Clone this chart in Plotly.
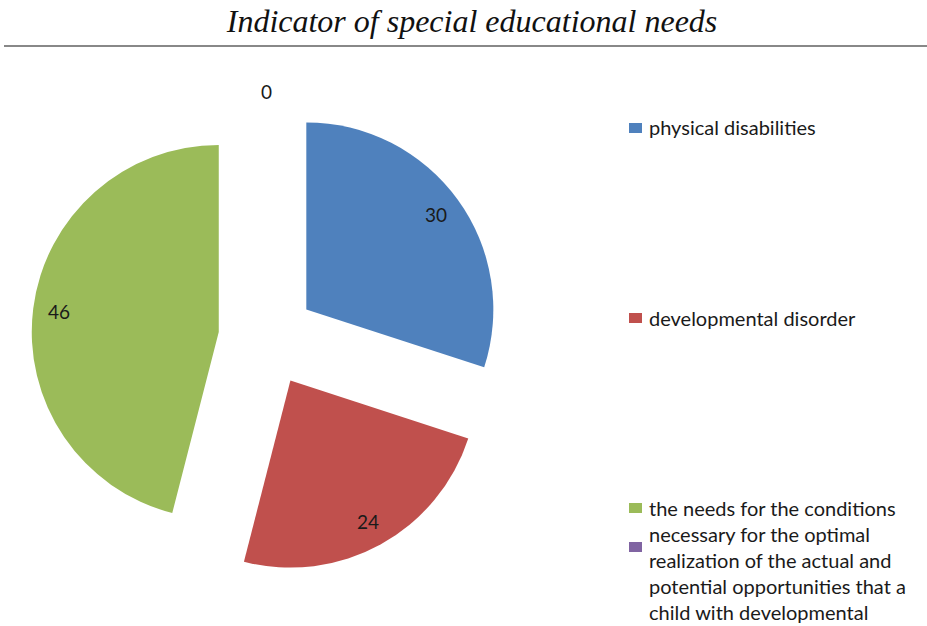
import math
import plotly.graph_objects as go

# Survey shares by category of special educational need
categories = [
    "physical disabilities",
    "developmental disorder",
    "the needs for the conditions<br>necessary for the optimal<br>realization of the actual and<br>potential opportunities that a<br>child with developmental",
    "",
]
values = [30, 24, 46, 0]
colors = ["#4F81BD", "#C0504D", "#9BBB59", "#8064A2"]

W, H = 927, 626
PULL = 0.26
R_PX = 187
CX_PX, CY_PX = 267, 338
half = R_PX * (1 + PULL)
# pie box (paper coords)
dom_x = [(CX_PX - half) / W, (CX_PX + half) / W]
dom_y = [1 - (CY_PX + half) / H, 1 - (CY_PX - half) / H]

fig = go.Figure()
fig.add_trace(go.Pie(
    labels=[f"cat{i}" for i in range(len(values))],
    values=values,
    sort=False,
    direction="clockwise",
    rotation=0,
    pull=[PULL] * len(values),
    marker=dict(colors=colors, line=dict(width=0)),
    textinfo="none",
    hoverinfo="label+value",
    showlegend=False,
    domain=dict(x=dom_x, y=dom_y),
))

# pie geometry in pixels, mirroring plotly's own sizing rule
box_w = W * (dom_x[1] - dom_x[0])
box_h = H * (dom_y[1] - dom_y[0])
r = min(box_w, box_h) / (2 + 2 * PULL)
cx = W * (dom_x[0] + dom_x[1]) / 2
cy = H * (1 - (dom_y[0] + dom_y[1]) / 2)

# value labels along each slice's mid-angle
total = sum(values)
cum = 0
annotations = []
for v in values:
    start = cum / total * 360
    cum += v
    end = cum / total * 360
    mid = math.radians((start + end) / 2)
    dx, dy = math.sin(mid), -math.cos(mid)
    ax = cx + dx * r * PULL
    ay = cy + dy * r * PULL
    k = 0.86 if v > 0 else 1.06
    lx = ax + dx * r * k
    ly = ay + dy * r * k
    annotations.append(dict(
        x=lx / W, y=1 - ly / H, xref="paper", yref="paper",
        text=str(v), showarrow=False,
        font=dict(family="Lato", size=19, color="#1a1a1a"),
        xanchor="center", yanchor="middle",
    ))

# legend drawn as swatches and text
legend_y = [128, 318, 508, 547]
shapes = []
for name, col, yy in zip(categories, colors, legend_y):
    shapes.append(dict(
        type="rect", xref="paper", yref="paper",
        x0=629 / W, x1=642 / W, y0=1 - (yy - 5) / H, y1=1 - (yy + 5) / H,
        fillcolor=col, line=dict(width=0),
    ))
    if name:
        annotations.append(dict(
            x=647 / W, y=1 - (yy - 14.5) / H, xref="paper", yref="paper",
            text=name, showarrow=False, align="left",
            font=dict(family="Lato", size=20, color="#1a1a1a"),
            xanchor="left", yanchor="top",
        ))

# rule under the title
shapes.append(dict(
    type="line", xref="paper", yref="paper",
    x0=4 / W, x1=1, y0=1 - 46 / H, y1=1 - 46 / H,
    line=dict(color="#888888", width=2),
))

fig.update_layout(
    width=W, height=H,
    margin=dict(l=0, r=0, t=0, b=0),
    paper_bgcolor="white", plot_bgcolor="white",
    title=dict(
        text="<i>Indicator of special educational needs</i>",
        x=472 / W, xanchor="center", y=1 - 21 / H, yanchor="middle",
        font=dict(family="Liberation Serif", size=32, color="#111111"),
    ),
    shapes=shapes,
    annotations=annotations,
)

fig.write_html("out.html")
